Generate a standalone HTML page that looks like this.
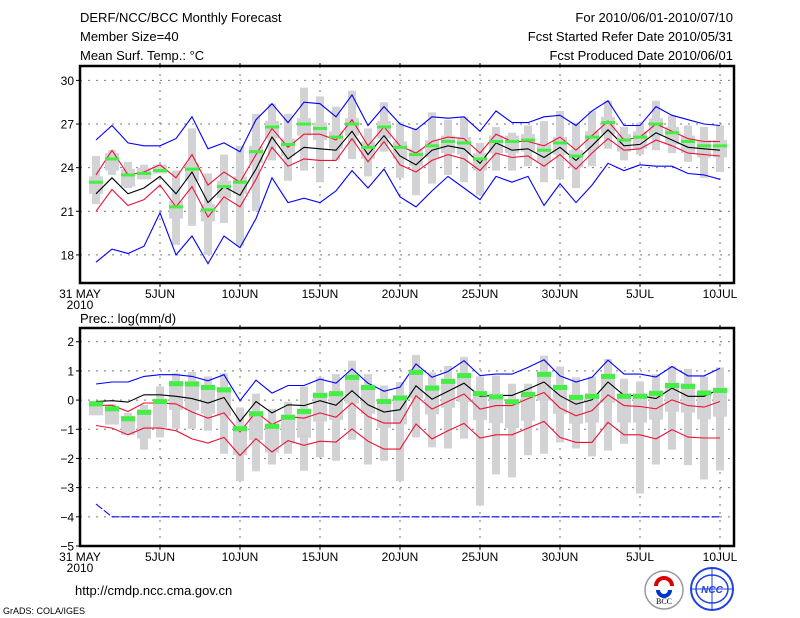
<!DOCTYPE html>
<html><head><meta charset="utf-8"><style>
body{margin:0;background:#fff;}
svg{display:block;font-family:"Liberation Sans",sans-serif;}
</style></head><body>
<svg id="chart" width="800" height="618" viewBox="0 0 800 618">
<g font-size="13" fill="#000">
<text x="80" y="22">DERF/NCC/BCC Monthly Forecast</text>
<text x="80" y="41">Member Size=40</text>
<text x="80" y="60">Mean Surf. Temp.: °C</text>
<text x="733" y="22" text-anchor="end">For 2010/06/01-2010/07/10</text>
<text x="733" y="41" text-anchor="end">Fcst Started Refer Date 2010/05/31</text>
<text x="733" y="60" text-anchor="end">Fcst Produced Date 2010/06/01</text>
<text x="80" y="323">Prec.: log(mm/d)</text>
</g>
<g id="top"></g>
<g id="bot"></g>
<text x="75" y="595" font-size="13">http://cmdp.ncc.cma.gov.cn</text>
<text x="3" y="614" font-size="9">GrADS: COLA/IGES</text>
<g>
<circle cx="664" cy="590" r="19" fill="#fff" stroke="#999" stroke-width="1.5"/>
<path d="M656 586 a8 8 0 1 1 16 0" fill="none" stroke="#d00" stroke-width="4"/>
<path d="M658 590 a6 6 0 1 0 12 0" fill="none" stroke="#0033cc" stroke-width="4"/>
<text x="664" y="604" font-size="8" text-anchor="middle" font-family="Liberation Serif,serif">BCC</text>
</g>
<g>
<circle cx="712" cy="589" r="21" fill="#fff" stroke="#2040e0" stroke-width="2"/>
<ellipse cx="712" cy="589" rx="16" ry="14" fill="none" stroke="#2040e0" stroke-width="1.5"/>
<line x1="692" y1="589" x2="732" y2="589" stroke="#2040e0"/>
<line x1="712" y1="569" x2="712" y2="609" stroke="#2040e0"/>
<text x="712" y="593" font-size="10" font-style="italic" font-weight="bold" fill="#2040e0" text-anchor="middle">NCC</text>
</g>
</svg>
<script>
const days = 40;
const topTicks = [18,21,24,27,30];
const botTicks = [-5,-4,-3,-2,-1,0,1,2];
const xLabels = ["5JUN","10JUN","15JUN","20JUN","25JUN","30JUN","5JUL","10JUL"];

const tBlueHi = [25.9,26.9,25.7,25.5,25.5,26.0,27.5,25.3,25.7,25.1,27.3,28.4,27.1,28.5,28.4,27.5,29.0,26.9,28.2,27.0,26.6,27.5,27.4,27.5,26.5,27.9,27.1,27.1,27.5,27.6,26.9,27.9,28.6,26.9,26.9,28.2,27.6,27.3,27.0,26.9];
const tRedHi = [23.5,25.2,23.5,23.7,24.2,23.3,24.9,22.8,23.7,23.0,24.9,26.7,25.4,26.3,26.3,25.9,27.3,25.5,26.8,25.5,25.0,25.8,26.1,26.0,25.0,26.3,25.8,25.8,25.5,26.1,25.2,26.2,27.2,25.9,26.1,27.0,26.5,26.0,25.8,25.8];
const tMean = [22.2,23.3,22.2,22.6,23.4,22.2,23.7,21.6,22.7,22.1,23.9,26.1,24.6,25.4,25.3,25.2,26.5,24.9,26.2,24.8,24.2,25.2,25.5,25.3,24.3,25.7,25.2,25.3,24.7,25.4,24.5,25.5,26.6,25.5,25.6,26.4,25.9,25.4,25.3,25.2];
const tRedLo = [21.0,22.5,21.4,21.8,22.8,21.3,22.7,20.6,22.0,21.3,23.2,25.4,24.1,24.6,24.5,24.5,26.0,24.4,25.8,24.2,23.7,24.5,24.9,24.6,23.8,25.0,24.7,24.8,24.1,24.9,23.9,25.0,26.0,25.2,25.3,25.9,25.5,25.0,24.9,24.8];
const tBlueLo = [17.5,18.4,18.1,18.6,20.9,18.0,19.3,17.4,19.3,18.5,20.5,23.3,21.6,21.9,21.6,22.4,23.8,22.6,23.9,22.0,21.3,22.4,23.4,22.6,21.8,23.4,23.0,23.4,21.4,22.9,21.6,22.8,24.3,23.8,24.2,24.1,24.1,23.6,23.5,23.2];
const tGreen = [23.0,24.6,23.5,23.6,23.8,21.3,23.9,21.1,22.7,23.0,25.1,26.8,25.6,27.0,26.7,26.1,27.0,25.4,26.8,25.4,24.9,25.5,25.8,25.7,24.6,25.8,25.8,25.9,25.2,25.7,24.8,26.1,27.1,25.9,26.1,27.0,26.4,25.8,25.5,25.5];
const tBarHi = [24.8,25.2,24.4,24.2,24.2,23.8,26.7,23.6,24.9,25.5,27.7,28.4,27.7,29.5,28.9,28.2,29.3,26.7,28.5,27.1,26.7,27.8,27.3,27.5,25.7,26.8,26.4,26.9,27.2,27.9,27.1,27.9,28.6,26.8,27.1,28.6,27.6,26.9,26.8,26.9];
const tBarLo = [21.5,23.5,22.6,23.2,23.6,18.7,20.0,18.0,20.2,18.6,21.0,24.5,23.1,23.8,23.0,24.5,24.6,23.4,25.1,23.3,22.1,22.9,23.5,23.0,22.1,23.8,23.8,24.1,23.0,23.2,22.6,24.1,25.3,24.5,24.9,25.2,25.0,24.4,23.3,23.7];
const tBoxHi = [23.4,25.0,23.9,24.0,24.2,21.7,24.3,21.5,23.1,23.4,25.5,27.2,26.0,27.4,27.1,26.5,27.4,25.8,27.2,25.8,25.3,25.9,26.2,26.1,25.0,26.2,26.2,26.3,25.6,26.1,25.2,26.5,27.5,26.3,26.5,27.4,26.8,26.2,25.9,25.9];
const tBoxLo = [22.2,23.8,22.7,22.8,23.0,20.5,23.1,20.3,21.9,22.2,24.3,26.0,24.8,26.2,25.9,25.3,26.2,24.6,26.0,24.6,24.1,24.7,25.0,24.9,23.8,25.0,25.0,25.1,24.4,24.9,24.0,25.3,26.3,25.1,25.3,26.2,25.6,25.0,24.7,24.7];

const pBlueHi = [0.55,0.62,0.62,0.81,0.87,0.87,0.81,0.66,0.87,-0.02,0.68,0.24,0.5,0.5,0.72,0.58,1.07,0.58,0.3,0.44,1.24,0.78,0.98,1.35,0.84,0.89,0.89,1.12,1.38,0.83,0.62,0.78,1.37,0.89,0.89,0.79,1.15,0.83,0.83,1.09];
const pRedHi = [-0.18,-0.18,-0.39,-0.1,-0.1,-0.13,-0.41,-0.62,-0.44,-1.09,-0.41,-0.84,-0.56,-0.62,-0.44,-0.59,-0.1,-0.56,-0.79,-0.79,0.15,-0.31,-0.05,0.21,-0.31,-0.19,-0.19,0.05,0.26,-0.27,-0.54,-0.36,0.18,-0.19,-0.22,-0.3,0.01,-0.19,-0.24,-0.05];
const pMean = [-0.05,-0.02,-0.07,0.18,0.18,0.13,0.05,-0.1,0.09,-0.73,-0.05,-0.44,-0.16,-0.19,-0.02,-0.18,0.32,-0.16,-0.41,-0.33,0.49,0.03,0.3,0.58,0.13,0.16,0.16,0.38,0.62,0.15,-0.14,0.01,0.62,0.16,0.15,0.05,0.41,0.13,0.13,0.38];
const pRedLo = [-0.87,-0.96,-1.19,-0.96,-0.96,-1.05,-1.33,-1.47,-1.28,-1.9,-1.32,-1.78,-1.39,-1.55,-1.41,-1.44,-0.99,-1.41,-1.68,-1.68,-0.82,-1.33,-1.05,-0.8,-1.3,-1.19,-1.19,-0.96,-0.73,-1.28,-1.45,-1.45,-0.76,-1.19,-1.19,-1.33,-1.01,-1.27,-1.3,-1.3];
const pBlueLo = [-3.56,-4,-4,-4,-4,-4,-4,-4,-4,-4,-4,-4,-4,-4,-4,-4,-4,-4,-4,-4,-4,-4,-4,-4,-4,-4,-4,-4,-4,-4,-4,-4,-4,-4,-4,-4,-4,-4,-4,-4];
const pGreen = [-0.13,-0.3,-0.64,-0.42,-0.05,0.56,0.55,0.43,0.35,-0.98,-0.47,-0.9,-0.59,-0.39,0.16,0.22,0.78,0.43,-0.05,0.07,0.95,0.41,0.64,0.84,0.22,0.11,-0.06,0.19,0.88,0.43,0.09,0.13,0.81,0.13,0.13,0.23,0.5,0.47,0.24,0.33];
const pBarHi = [-0.02,-0.14,-0.44,-0.16,0.47,0.92,0.96,0.81,0.92,-0.25,0.22,-0.3,-0.07,0.47,0.78,0.89,1.35,0.89,0.5,0.62,1.55,0.95,1.17,1.48,0.81,0.84,0.56,0.56,1.52,1.15,0.78,0.81,1.41,0.73,0.64,0.89,1.17,1.07,0.81,1.12];
const pBarLo = [-0.52,-0.84,-1.19,-1.7,-1.28,-0.98,-0.98,-1.05,-1.84,-2.78,-2.44,-2.21,-1.84,-2.42,-1.96,-2.08,-1.36,-2.21,-2.08,-2.78,-1.28,-1.62,-1.66,-1.32,-3.61,-2.55,-2.65,-1.89,-1.84,-1.45,-1.66,-1.93,-1.73,-1.5,-3.2,-2.21,-1.7,-2.23,-2.72,-2.41];
const pBoxHi = [-0.03,-0.2,-0.54,-0.32,0.05,0.66,0.65,0.53,0.45,-0.88,-0.37,-0.8,-0.49,-0.29,0.26,0.32,0.88,0.53,0.05,0.17,1.05,0.51,0.74,0.94,0.32,0.21,0.04,0.29,0.98,0.53,0.19,0.23,0.91,0.23,0.23,0.33,0.6,0.57,0.34,0.43];
const pBoxLo = [-1.03,-1.2,-1.54,-1.32,-0.95,-0.34,-0.35,-0.47,-0.55,-1.88,-1.37,-1.8,-1.49,-1.29,-0.74,-0.68,-0.12,-0.47,-0.95,-0.83,0.05,-0.49,-0.26,-0.06,-0.68,-0.79,-0.96,-0.71,-0.02,-0.47,-0.81,-0.77,-0.09,-0.77,-0.77,-0.67,-0.4,-0.43,-0.66,-0.57];

const NS = "http://www.w3.org/2000/svg";
const X0 = 80, X1 = 734, DX = 16;
function xDay(i){ return X0 + DX * i; }
function mk(parent, tag, attrs){
  const e = document.createElementNS(NS, tag);
  for (const k in attrs) e.setAttribute(k, attrs[k]);
  parent.appendChild(e);
  return e;
}

function panel(g, top, bottom, vTop, vBot, ticks, s, prefix, greenH, blueLoDashed){
  const yv = v => top + (vTop - v) / (vTop - vBot) * (bottom - top);
  // grid
  ticks.forEach(t => {
    const y = yv(t);
    if (y > top + 1 && y < bottom - 1) {
      const l = mk(g, "line", {x1:X0, x2:X1, y1:y, y2:y, stroke:"#777", "stroke-width":1, "stroke-dasharray":"2,6"});
      
      
    }
    const tk = mk(g, "line", {x1:X0-4, x2:X0, y1:y, y2:y, stroke:"#000"});
    
    
    const lb = mk(g, "text", {x:X0-6, y:y+4.5, "text-anchor":"end", "font-size":12});
    lb.textContent = t < 0 ? "\u2212" + Math.abs(t) : String(t);
    
    
  });
  for (let k = 1; k <= 8; k++) {
    const x = xDay(5 * k);
    const l = mk(g, "line", {x1:x, x2:x, y1:top, y2:bottom, stroke:"#777", "stroke-width":1, "stroke-dasharray":"2,6"});
    
    
    const tk1 = mk(g, "line", {x1:x, x2:x, y1:bottom, y2:bottom+4, stroke:"#000"});
    
    
    const tk2 = mk(g, "line", {x1:x, x2:x, y1:top, y2:top-3, stroke:"#000"});
    
    
    const lb = mk(g, "text", {x:x, y:bottom+15, "text-anchor":"middle", "font-size":12});
    lb.textContent = xLabels[k-1];
    
    
  }
  const l0 = mk(g, "text", {x:X0, y:bottom+15, "text-anchor":"middle", "font-size":12});
  l0.textContent = "31 MAY";
  
  
  const l1 = mk(g, "text", {x:X0, y:bottom+26, "text-anchor":"middle", "font-size":12});
  l1.textContent = "2010";
  
  

  // ensemble bars
  for (let i = 0; i < days; i++) {
    const x = xDay(i + 1);
    const b = mk(g, "rect", {x:x-4, y:yv(s.barHi[i]), width:8, height:Math.max(1, yv(s.barLo[i]) - yv(s.barHi[i])), fill:"#d3d3d6"});
    
    
    const hi = Math.min(s.boxHi[i], s.barHi[i]), lo = Math.max(s.boxLo[i], s.barLo[i]);
    const bx = mk(g, "rect", {x:x-7, y:yv(hi), width:14, height:Math.max(1, yv(lo) - yv(hi)), fill:"#d3d3d6"});
    
    
  }
  function line(vals, color, name, dash){
    const pts = vals.map((v, i) => xDay(i + 1) + "," + yv(v).toFixed(1)).join(" ");
    const a = {points:pts, fill:"none", stroke:color, "stroke-width":1.1};
    if (dash) a["stroke-dasharray"] = dash;
    const p = mk(g, "polyline", a);
    
    
  }
  line(s.blueHi, "#0000ff", prefix + "-max-line");
  line(s.blueLo, "#0000ff", prefix + "-min-line", blueLoDashed ? "8,2" : null);
  line(s.redHi, "#ee1133", prefix + "-upper-line");
  line(s.redLo, "#ee1133", prefix + "-lower-line");
  line(s.mean, "#000000", prefix + "-mean-line");
  for (let i = 0; i < days; i++) {
    const x = xDay(i + 1);
    const gm = mk(g, "rect", {x:x-7, y:yv(s.green[i]) - greenH/2, width:14, height:greenH, fill:"#44ee44"});
    
    
  }
  const fr = mk(g, "rect", {x:X0, y:top, width:X1-X0, height:bottom-top, fill:"none", stroke:"#000", "stroke-width":2.5});
  
  
}

panel(document.getElementById("top"), 66, 283, 30.99, 16.07, topTicks,
  {blueHi:tBlueHi, redHi:tRedHi, mean:tMean, redLo:tRedLo, blueLo:tBlueLo, green:tGreen, barHi:tBarHi, barLo:tBarLo, boxHi:tBoxHi, boxLo:tBoxLo},
  "temp", 3, false);
panel(document.getElementById("bot"), 328, 546, 2.47, -5, botTicks,
  {blueHi:pBlueHi, redHi:pRedHi, mean:pMean, redLo:pRedLo, blueLo:pBlueLo, green:pGreen, barHi:pBarHi, barLo:pBarLo, boxHi:pBoxHi, boxLo:pBoxLo},
  "prec", 5, true);
</script>
</body></html>
